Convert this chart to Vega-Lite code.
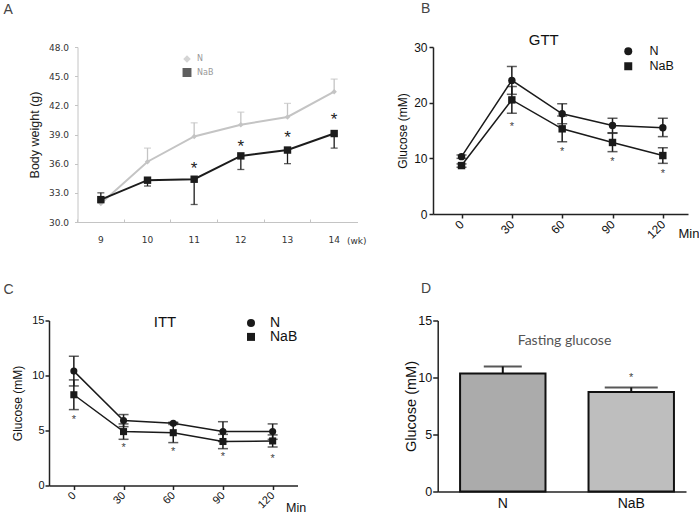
{
  "$schema": "https://vega.github.io/schema/vega-lite/v6.json",
  "padding": {"left": 3, "top": 2, "right": 0, "bottom": 0},
  "background": "white",
  "config": {
    "view": {"stroke": null},
    "font": "Liberation Sans",
    "title": {"fontWeight": "normal", "anchor": "start", "frame": "group", "baseline": "alphabetic", "color": "#444", "fontSize": 14, "font": "Liberation Sans"},
    "axis": {"grid": false, "labelFont": "Liberation Sans", "titleFont": "Liberation Sans", "titleFontWeight": "normal", "labelColor": "#111", "titleColor": "#111", "labelOverlap": false},
    "legend": {"title": null, "padding": 0}
  },
  "datasets": {
    "wt": [
      {"wk": 9, "group": "N", "mean": 31.9, "lo": 31.9, "hi": 31.9},
      {"wk": 10, "group": "N", "mean": 36.2, "lo": 36.2, "hi": 37.6},
      {"wk": 11, "group": "N", "mean": 38.8, "lo": 38.8, "hi": 40.2},
      {"wk": 12, "group": "N", "mean": 40.0, "lo": 40.0, "hi": 41.3},
      {"wk": 13, "group": "N", "mean": 40.8, "lo": 40.8, "hi": 42.2},
      {"wk": 14, "group": "N", "mean": 43.4, "lo": 43.4, "hi": 44.7},
      {"wk": 9, "group": "NaB", "mean": 32.3, "lo": 32.3, "hi": 33.0},
      {"wk": 10, "group": "NaB", "mean": 34.3, "lo": 33.7, "hi": 34.3},
      {"wk": 11, "group": "NaB", "mean": 34.4, "lo": 31.8, "hi": 34.4},
      {"wk": 12, "group": "NaB", "mean": 36.8, "lo": 35.4, "hi": 36.8},
      {"wk": 13, "group": "NaB", "mean": 37.4, "lo": 36.0, "hi": 37.4},
      {"wk": 14, "group": "NaB", "mean": 39.1, "lo": 37.6, "hi": 39.1}
    ],
    "wtStar": [
      {"wk": 11, "star": 35.9},
      {"wk": 12, "star": 38.2},
      {"wk": 13, "star": 39.1},
      {"wk": 14, "star": 41.0}
    ],
    "gtt": [
      {"t": 0, "group": "N", "mean": 10.3, "lo": 10.0, "hi": 10.6},
      {"t": 30, "group": "N", "mean": 24.0, "lo": 21.5, "hi": 26.5},
      {"t": 60, "group": "N", "mean": 18.0, "lo": 16.2, "hi": 19.8},
      {"t": 90, "group": "N", "mean": 15.9, "lo": 14.6, "hi": 17.2},
      {"t": 120, "group": "N", "mean": 15.5, "lo": 13.9, "hi": 17.2},
      {"t": 0, "group": "NaB", "mean": 8.7, "lo": 8.4, "hi": 9.0},
      {"t": 30, "group": "NaB", "mean": 20.5, "lo": 18.1, "hi": 22.9},
      {"t": 60, "group": "NaB", "mean": 15.3, "lo": 13.0, "hi": 17.6},
      {"t": 90, "group": "NaB", "mean": 12.85, "lo": 11.2, "hi": 14.5},
      {"t": 120, "group": "NaB", "mean": 10.5, "lo": 9.1, "hi": 11.9}
    ],
    "gttStar": [
      {"t": 30, "star": 16.2},
      {"t": 60, "star": 11.8},
      {"t": 90, "star": 9.9},
      {"t": 120, "star": 7.8}
    ],
    "itt": [
      {"t": 0, "group": "N", "mean": 10.4, "lo": 9.05, "hi": 11.75},
      {"t": 30, "group": "N", "mean": 5.9, "lo": 5.35, "hi": 6.45},
      {"t": 60, "group": "N", "mean": 5.65, "lo": 5.55, "hi": 5.75},
      {"t": 90, "group": "N", "mean": 4.9, "lo": 4.0, "hi": 5.8},
      {"t": 120, "group": "N", "mean": 4.9, "lo": 4.2, "hi": 5.6},
      {"t": 0, "group": "NaB", "mean": 8.25, "lo": 6.9, "hi": 9.6},
      {"t": 30, "group": "NaB", "mean": 4.9, "lo": 4.2, "hi": 5.6},
      {"t": 60, "group": "NaB", "mean": 4.8, "lo": 3.9, "hi": 5.7},
      {"t": 90, "group": "NaB", "mean": 4.0, "lo": 3.35, "hi": 4.65},
      {"t": 120, "group": "NaB", "mean": 4.05, "lo": 3.5, "hi": 4.6}
    ],
    "ittStar": [
      {"t": 0, "star": 6.3},
      {"t": 30, "star": 3.75},
      {"t": 60, "star": 3.35},
      {"t": 90, "star": 2.85},
      {"t": 120, "star": 2.75}
    ],
    "fast": [
      {"group": "N", "mean": 10.35, "hi": 10.97},
      {"group": "NaB", "mean": 8.72, "hi": 9.13}
    ],
    "fastStar": [
      {"group": "NaB", "star": 10.25}
    ]
  },
  "resolve": {"scale": {"color": "independent", "shape": "independent", "size": "independent", "fill": "independent"}, "legend": {"color": "independent", "shape": "independent", "size": "independent", "fill": "independent"}},
  "columns": 1,
  "align": "none",
  "spacing": 36.5,
  "concat": [
    {
      "bounds": "flush",
      "spacing": 75,
      "resolve": {"scale": {"color": "independent", "shape": "independent", "size": "independent", "fill": "independent"}, "legend": {"color": "independent", "shape": "independent", "size": "independent", "fill": "independent"}},
      "hconcat": [
        {
          "width": 308.5,
          "height": 175,
          "title": {"text": "A", "dx": -45.5, "offset": 26.5},
          "encoding": {
            "x": {
              "field": "wk", "type": "ordinal",
              "scale": {"type": "band", "paddingInner": 0, "paddingOuter": 0.3054, "align": 1},
              "axis": {
                "title": "(wk)", "labelAngle": 0, "bandPosition": 0,
                "tickSize": -3, "tickColor": "#c4c4c4", "domainColor": "#c4c4c4", "domainDash": [0, 28.5, 400, 0],
                "labelFont": "DejaVu Sans", "labelFontSize": 9, "labelColor": "#333", "labelPadding": 16,
                "titleFont": "DejaVu Sans", "titleFontSize": 9, "titleColor": "#333",
                "titleX": 297.5, "titleY": 18, "titleAlign": "left", "titleBaseline": "middle", "titleAngle": 0
              }
            }
          },
          "layer": [
            {
              "data": {"name": "wt"},
              "mark": {"type": "line", "strokeWidth": 2},
              "encoding": {
                "y": {
                  "field": "mean", "type": "quantitative", "title": "Body weight (g)",
                  "scale": {"domain": [30, 48], "nice": false, "zero": false},
                  "axis": {
                    "values": [30, 33, 36, 39, 42, 45, 48], "tickCount": 10, "format": ".1f", "labelOverlap": false, "offset": -28.5,
                    "domainColor": "#c4c4c4", "tickColor": "#c4c4c4", "tickSize": 3,
                    "labelFont": "DejaVu Sans", "labelFontSize": 9, "labelColor": "#333", "labelPadding": 6,
                    "titleFontSize": 12.5, "titleColor": "#222", "titlePadding": 7
                  }
                },
                "color": {"field": "group", "type": "nominal", "scale": {"domain": ["N", "NaB"], "range": ["#c4c4c4", "#1c1c1c"]}}
              }
            },
            {
              "data": {"name": "wt"},
              "transform": [{"filter": "datum.hi > datum.lo"}],
              "mark": {"type": "rule", "strokeWidth": 1.3},
              "encoding": {
                "y": {"field": "lo", "type": "quantitative", "title": "Body weight (g)"},
                "y2": {"field": "hi"},
                "color": {"field": "group", "type": "nominal"}
              }
            },
            {
              "data": {"name": "wt"},
              "transform": [{"filter": "datum.hi > datum.mean"}],
              "mark": {"type": "tick", "orient": "horizontal", "size": 7, "thickness": 1.3},
              "encoding": {
                "y": {"field": "hi", "type": "quantitative", "title": "Body weight (g)"},
                "color": {"field": "group", "type": "nominal"}
              }
            },
            {
              "data": {"name": "wt"},
              "transform": [{"filter": "datum.lo < datum.mean"}],
              "mark": {"type": "tick", "orient": "horizontal", "size": 7, "thickness": 1.3},
              "encoding": {
                "y": {"field": "lo", "type": "quantitative", "title": "Body weight (g)"},
                "color": {"field": "group", "type": "nominal"}
              }
            },
            {
              "data": {"name": "wt"},
              "mark": {"type": "point", "filled": true, "opacity": 1},
              "encoding": {
                "y": {"field": "mean", "type": "quantitative", "title": "Body weight (g)"},
                "color": {"field": "group", "type": "nominal"},
                "size": {"field": "group", "type": "nominal", "scale": {"domain": ["N", "NaB"], "range": [30, 55]}},
                "shape": {
                  "field": "group", "type": "nominal",
                  "scale": {"domain": ["N", "NaB"], "range": ["diamond", "square"]},
                  "legend": {
                    "orient": "none", "legendX": 133.5, "legendY": 8,
                    "labelFont": "DejaVu Sans", "labelFontSize": 8, "labelColor": "#999",
                    "labelOffset": 5.5, "rowPadding": 0, "symbolOpacity": 1
                  }
                }
              }
            },
            {
              "data": {"name": "wtStar"},
              "mark": {"type": "text", "text": "*", "fontSize": 17, "baseline": "alphabetic", "dy": 9.5, "color": "#222"},
              "encoding": {
                "y": {"field": "star", "type": "quantitative", "title": "Body weight (g)"}
              }
            }
          ]
        },
        {
          "width": 255,
          "height": 167,
          "title": {"text": "B", "dx": -12, "offset": 17},
          "layer": [
            {
              "data": {"name": "gtt"},
              "mark": {"type": "line", "strokeWidth": 1.5, "color": "#1a1a1a"},
              "encoding": {
                "x": {
                  "field": "t", "type": "quantitative",
                  "scale": {"domain": [-17, 135], "nice": false, "zero": false},
                  "axis": {
                    "title": "Min", "values": [0, 30, 60, 90, 120], "tickCount": 10,
                    "labelAngle": -45, "labelAlign": "right", "labelBaseline": "middle", "labelFontSize": 12, "labelPadding": 4,
                    "domainColor": "#222", "domainWidth": 1.5, "tickColor": "#222", "tickWidth": 1.5, "tickSize": 4,
                    "titleX": 245, "titleY": 19, "titleAlign": "left", "titleBaseline": "middle", "titleFontSize": 13, "titleAngle": 0
                  }
                },
                "y": {
                  "field": "mean", "type": "quantitative", "title": "Glucose (mM)",
                  "scale": {"domain": [0, 30], "nice": false},
                  "axis": {
                    "values": [0, 10, 20, 30], "tickCount": 10,
                    "domainColor": "#222", "domainWidth": 1.5, "tickColor": "#222", "tickWidth": 1.5, "tickSize": 4,
                    "labelFontSize": 12, "labelPadding": 2, "titleFontSize": 12, "titlePadding": 4
                  }
                },
                "detail": {"field": "group", "type": "nominal"}
              }
            },
            {
              "data": {"name": "gtt"},
              "mark": {"type": "rule", "strokeWidth": 1.5, "color": "#1a1a1a"},
              "encoding": {
                "x": {"field": "t", "type": "quantitative", "title": "Min"},
                "y": {"field": "lo", "type": "quantitative", "title": "Glucose (mM)"},
                "y2": {"field": "hi"}
              }
            },
            {
              "data": {"name": "gtt"},
              "mark": {"type": "tick", "orient": "horizontal", "size": 10, "thickness": 1.5, "color": "#1a1a1a"},
              "encoding": {
                "x": {"field": "t", "type": "quantitative", "title": "Min"},
                "y": {"field": "hi", "type": "quantitative", "title": "Glucose (mM)"}
              }
            },
            {
              "data": {"name": "gtt"},
              "mark": {"type": "tick", "orient": "horizontal", "size": 10, "thickness": 1.5, "color": "#1a1a1a"},
              "encoding": {
                "x": {"field": "t", "type": "quantitative", "title": "Min"},
                "y": {"field": "lo", "type": "quantitative", "title": "Glucose (mM)"}
              }
            },
            {
              "data": {"name": "gtt"},
              "mark": {"type": "point", "filled": true, "opacity": 1, "size": 55, "color": "#1a1a1a"},
              "encoding": {
                "x": {"field": "t", "type": "quantitative", "title": "Min"},
                "y": {"field": "mean", "type": "quantitative", "title": "Glucose (mM)"},
                "shape": {
                  "field": "group", "type": "nominal",
                  "scale": {"domain": ["N", "NaB"], "range": ["circle", "square"]},
                  "legend": {
                    "orient": "none", "legendX": 189, "legendY": -2,
                    "symbolSize": 64, "labelFontSize": 12.5, "labelColor": "#111",
                    "labelOffset": 15, "rowPadding": 0, "symbolOpacity": 1
                  }
                }
              }
            },
            {
              "data": {"name": "gttStar"},
              "mark": {"type": "text", "text": "*", "fontSize": 11, "baseline": "alphabetic", "dy": 6.3, "color": "#444"},
              "encoding": {
                "x": {"field": "t", "type": "quantitative", "title": "Min"},
                "y": {"field": "star", "type": "quantitative", "title": "Glucose (mM)"}
              }
            },
            {
              "data": {"values": [{}]},
              "mark": {"type": "text", "text": "GTT", "fontSize": 15, "baseline": "alphabetic", "align": "center", "color": "#111"},
              "encoding": {
                "x": {"datum": 49, "type": "quantitative", "title": "Min"},
                "y": {"datum": 30.3, "type": "quantitative", "title": "Glucose (mM)"}
              }
            }
          ]
        }
      ]
    },
    {
      "bounds": "flush",
      "spacing": 139.7,
      "resolve": {"scale": {"color": "independent", "shape": "independent", "size": "independent", "fill": "independent"}, "legend": {"color": "independent", "shape": "independent", "size": "independent", "fill": "independent"}},
      "hconcat": [
        {
          "width": 248.5,
          "height": 165,
          "title": {"text": "C", "dx": -45.5, "offset": 17.4},
          "layer": [
            {
              "data": {"name": "itt"},
              "mark": {"type": "line", "strokeWidth": 1.5, "color": "#1a1a1a"},
              "encoding": {
                "x": {
                  "field": "t", "type": "quantitative",
                  "scale": {"domain": [-15, 135], "nice": false, "zero": false},
                  "axis": {
                    "title": "Min", "values": [0, 30, 60, 90, 120], "tickCount": 10,
                    "labelAngle": -45, "labelAlign": "right", "labelBaseline": "middle", "labelFontSize": 11, "labelPadding": 4,
                    "domainColor": "#222", "domainWidth": 1.5, "tickColor": "#222", "tickWidth": 1.5, "tickSize": 4,
                    "titleX": 236.5, "titleY": 22, "titleAlign": "left", "titleBaseline": "middle", "titleFontSize": 12.5, "titleAngle": 0
                  }
                },
                "y": {
                  "field": "mean", "type": "quantitative", "title": "Glucose (mM)",
                  "scale": {"domain": [0, 15], "nice": false},
                  "axis": {
                    "values": [0, 5, 10, 15], "tickCount": 10,
                    "domainColor": "#222", "domainWidth": 1.5, "tickColor": "#222", "tickWidth": 1.5, "tickSize": 4,
                    "labelFontSize": 11, "labelPadding": 1, "titleFontSize": 12, "titlePadding": 7
                  }
                },
                "detail": {"field": "group", "type": "nominal"}
              }
            },
            {
              "data": {"name": "itt"},
              "mark": {"type": "rule", "strokeWidth": 1.5, "color": "#1a1a1a"},
              "encoding": {
                "x": {"field": "t", "type": "quantitative", "title": "Min"},
                "y": {"field": "lo", "type": "quantitative", "title": "Glucose (mM)"},
                "y2": {"field": "hi"}
              }
            },
            {
              "data": {"name": "itt"},
              "mark": {"type": "tick", "orient": "horizontal", "size": 10, "thickness": 1.5, "color": "#1a1a1a"},
              "encoding": {
                "x": {"field": "t", "type": "quantitative", "title": "Min"},
                "y": {"field": "hi", "type": "quantitative", "title": "Glucose (mM)"}
              }
            },
            {
              "data": {"name": "itt"},
              "mark": {"type": "tick", "orient": "horizontal", "size": 10, "thickness": 1.5, "color": "#1a1a1a"},
              "encoding": {
                "x": {"field": "t", "type": "quantitative", "title": "Min"},
                "y": {"field": "lo", "type": "quantitative", "title": "Glucose (mM)"}
              }
            },
            {
              "data": {"name": "itt"},
              "mark": {"type": "point", "filled": true, "opacity": 1, "size": 50, "color": "#1a1a1a"},
              "encoding": {
                "x": {"field": "t", "type": "quantitative", "title": "Min"},
                "y": {"field": "mean", "type": "quantitative", "title": "Glucose (mM)"},
                "shape": {
                  "field": "group", "type": "nominal",
                  "scale": {"domain": ["N", "NaB"], "range": ["circle", "square"]},
                  "legend": {
                    "orient": "none", "legendX": 195, "legendY": -4.6,
                    "symbolSize": 64, "labelFontSize": 14, "labelColor": "#111",
                    "labelOffset": 12, "rowPadding": 0, "symbolOpacity": 1
                  }
                }
              }
            },
            {
              "data": {"name": "ittStar"},
              "mark": {"type": "text", "text": "*", "fontSize": 11, "baseline": "alphabetic", "dy": 6.3, "color": "#444"},
              "encoding": {
                "x": {"field": "t", "type": "quantitative", "title": "Min"},
                "y": {"field": "star", "type": "quantitative", "title": "Glucose (mM)"}
              }
            },
            {
              "data": {"values": [{}]},
              "mark": {"type": "text", "text": "ITT", "fontSize": 15, "baseline": "alphabetic", "align": "center", "color": "#111"},
              "encoding": {
                "x": {"datum": 55, "type": "quantitative", "title": "Min"},
                "y": {"datum": 14.43, "type": "quantitative", "title": "Glucose (mM)"}
              }
            }
          ]
        },
        {
          "width": 248.3,
          "height": 171,
          "title": {"text": "D", "dx": -16.7, "offset": 18.4},
          "encoding": {
            "x": {
              "field": "group", "type": "nominal",
              "scale": {"type": "band", "domain": ["N", "NaB"], "paddingInner": 0.335, "paddingOuter": 0.134, "align": 0.65},
              "axis": {
                "title": "Fasting glucose", "labelAngle": 0, "ticks": false, "labelFontSize": 14, "labelPadding": 5,
                "domainColor": "#222", "domainWidth": 1.5,
                "titleFont": "Lato", "titleFontSize": 14, "titleColor": "#555", "titleX": 126.3, "titleY": -147.3,
                "titleAlign": "center", "titleBaseline": "alphabetic", "titleAngle": 0
              }
            }
          },
          "layer": [
            {
              "data": {"name": "fast"},
              "mark": {"type": "rule", "strokeWidth": 2, "color": "#111"},
              "encoding": {
                "y": {"field": "mean", "type": "quantitative", "title": "Glucose (mM)"},
                "y2": {"field": "hi"}
              }
            },
            {
              "data": {"name": "fast"},
              "mark": {"type": "bar", "stroke": "#111", "strokeWidth": 2},
              "encoding": {
                "y": {
                  "field": "mean", "type": "quantitative", "title": "Glucose (mM)",
                  "scale": {"domain": [0, 15], "nice": false},
                  "axis": {
                    "values": [0, 5, 10, 15], "tickCount": 10,
                    "domainColor": "#222", "domainWidth": 1.5, "tickColor": "#222", "tickWidth": 1.5, "tickSize": 5,
                    "labelFontSize": 12.5, "labelPadding": 1, "titleFontSize": 14.5, "titlePadding": -1
                  }
                },
                "fill": {"field": "group", "type": "nominal", "scale": {"domain": ["N", "NaB"], "range": ["#ababab", "#bebebe"]}, "legend": null}
              }
            },
            {
              "data": {"name": "fast"},
              "transform": [{"filter": "datum.group === 'N'"}],
              "mark": {"type": "tick", "orient": "horizontal", "size": 38, "thickness": 2, "color": "#111"},
              "encoding": {"y": {"field": "hi", "type": "quantitative", "title": "Glucose (mM)"}}
            },
            {
              "data": {"name": "fast"},
              "transform": [{"filter": "datum.group === 'NaB'"}],
              "mark": {"type": "tick", "orient": "horizontal", "size": 53, "thickness": 2, "color": "#111"},
              "encoding": {"y": {"field": "hi", "type": "quantitative", "title": "Glucose (mM)"}}
            },
            {
              "data": {"name": "fastStar"},
              "mark": {"type": "text", "text": "*", "fontSize": 11, "baseline": "alphabetic", "dy": 6.3, "color": "#444"},
              "encoding": {"y": {"field": "star", "type": "quantitative", "title": "Glucose (mM)"}}
            }
          ]
        }
      ]
    }
  ]
}
